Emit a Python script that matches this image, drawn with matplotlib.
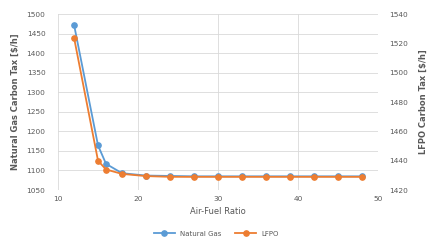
import matplotlib
matplotlib.use("Agg")
import matplotlib.pyplot as plt

# data
air_fuel = [12, 15, 16, 18, 21, 24, 27, 30, 33, 36, 39, 42, 45, 48]
natural_gas = [1473, 1164, 1117, 1093, 1087, 1086, 1085, 1085, 1085, 1085, 1085, 1085, 1085, 1085]
lfpo = [1524, 1440, 1434, 1431, 1429.5, 1429, 1429, 1429, 1429, 1429, 1429, 1429, 1429, 1429]

blue = "#5B9BD5"
orange = "#ED7D31"
txt = "#595959"
grid = "#D9D9D9"

plt.rcParams["font.family"] = ["DejaVu Sans"]
plt.rcParams["font.size"] = 5

fig = plt.figure(figsize=(4.33, 2.43), dpi=100)
ax = fig.add_axes([0.134, 0.218, 0.739, 0.724])
ax2 = ax.twinx()

l1, = ax.plot(air_fuel, natural_gas, color=blue, lw=1.3, marker="o", ms=3.8,
              label="Natural Gas", zorder=3)
l2, = ax2.plot(air_fuel, lfpo, color=orange, lw=1.3, marker="o", ms=3.8,
               label="LFPO", zorder=3)

ax.set_xlim(10, 50)
ax.set_ylim(1050, 1500)
ax2.set_ylim(1420, 1540)
ax.set_xticks(range(10, 51, 10))
ax.set_yticks(range(1050, 1501, 50))
ax2.set_yticks(range(1420, 1541, 20))

ax.grid(True, color=grid, lw=0.6)
ax.set_axisbelow(True)

for a in (ax, ax2):
    for s in a.spines.values():
        s.set_visible(False)
    a.tick_params(length=0, colors=txt, labelsize=5.3)
ax.tick_params(axis="y", pad=9)
ax.tick_params(axis="x", pad=4)
ax2.tick_params(axis="y", pad=8)

ax.set_xlabel("Air-Fuel Ratio", color=txt, fontsize=6, labelpad=4)
ax.set_ylabel(r"Natural Gas Carbon Tax [\$/h]", color=txt, fontsize=6, fontweight="bold", labelpad=5)
ax2.set_ylabel(r"LFPO Carbon Tax [\$/h]", color=txt, fontsize=6, fontweight="bold", labelpad=8)

fig.legend(handles=[l1, l2], loc="lower center", bbox_to_anchor=(0.5, 0.0), ncol=2,
           frameon=False, fontsize=5, labelcolor=txt, handlelength=3, columnspacing=2)

fig.savefig("out.png", dpi=100)
